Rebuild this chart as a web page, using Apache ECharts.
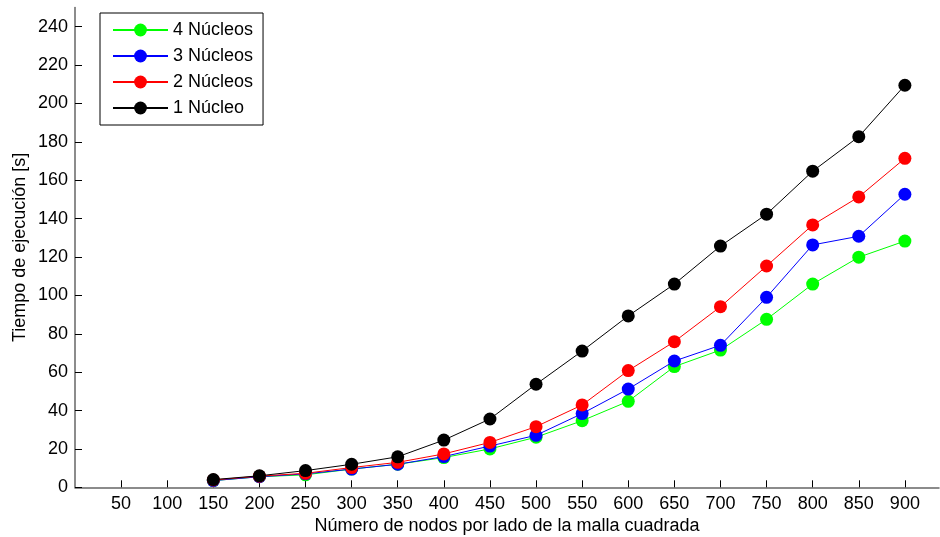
<!DOCTYPE html>
<html>
<head>
<meta charset="utf-8">
<script src="https://cdn.jsdelivr.net/npm/echarts@6/dist/echarts.min.js"></script>
<style>html,body{margin:0;padding:0;background:#fff}#c{width:940px;height:537px}</style>
</head>
<body>
<div id="c"></div>
<script>
const nodes = [150,200,250,300,350,400,450,500,550,600,650,700,750,800,850,900];
const xTicks = [50,100,150,200,250,300,350,400,450,500,550,600,650,700,750,800,850,900];
const yTicks = [0,20,40,60,80,100,120,140,160,180,200,220,240];
const names = ['4 Núcleos','3 Núcleos','2 Núcleos','1 Núcleo'];
const colors = ['#00ff00','#0000ff','#ff0000','#000000'];
const cores4 = [3.5,5.5,6.5,9.5,12,15.5,20.0,26.1,34.7,44.8,62.9,71.5,87.5,105.9,119.9,128.3];
const cores3 = [3.5,5.5,7.0,9.5,12,16.0,21.5,27.1,38.4,51.2,65.8,74.0,99.0,126.3,130.8,152.7];
const cores2 = [3.8,5.8,7.3,10.3,13,17.4,23.4,31.6,42.9,60.8,75.9,94.1,115.3,136.7,151.3,171.4];
const cores1 = [4.0,6.0,8.7,12.0,15.9,24.6,35.6,53.7,71.0,89.3,105.9,125.7,142.3,164.7,182.7,209.5];
const allSeries = [cores4,cores3,cores2,cores1];

const font = 'Liberation Sans, Arial, Helvetica, sans-serif';
const fs = 18;
const chart = echarts.init(document.getElementById('c'));
chart.setOption({
  animation: false,
  backgroundColor: '#fff',
  textStyle: {fontFamily: font},
  grid: {left: 75, right: 1, top: 7.5, bottom: 49.7, containLabel: false, outerBoundsMode: 'none'},
  legend: {
    data: names, orient: 'vertical', left: 100, top: 13,
    itemWidth: 55, itemHeight: 16, itemGap: 8,
    padding: [8, 10, 8, 12],
    borderColor: '#000', borderWidth: 1, backgroundColor: '#fff',
    textStyle: {fontSize: fs, color: '#000', fontFamily: font}
  },
  xAxis: {
    type: 'value', min: 0, max: 937, interval: 50,
    name: 'Número de nodos por lado de la malla cuadrada',
    nameLocation: 'middle', nameGap: 30, nameMoveOverlap: false,
    nameTextStyle: {fontSize: fs, color: '#000', fontFamily: font},
    axisLine: {lineStyle: {color: '#666', width: 1.5}},
    axisTick: {inside: true, length: 7, customValues: xTicks, lineStyle: {color: '#000'}},
    axisLabel: {customValues: xTicks, fontSize: fs, color: '#000', margin: 8, fontFamily: font},
    splitLine: {show: false}
  },
  yAxis: {
    type: 'value', min: 0, max: 250, interval: 20,
    name: 'Tiempo de ejecución [s]',
    nameLocation: 'middle', nameGap: 46, nameRotate: 90, nameMoveOverlap: false,
    nameTextStyle: {fontSize: fs, color: '#000', fontFamily: font},
    axisLine: {show: true, lineStyle: {color: '#666', width: 1.5}},
    axisTick: {show: true, inside: true, length: 7, customValues: yTicks, lineStyle: {color: '#000'}},
    axisLabel: {customValues: yTicks, fontSize: fs, color: '#000', margin: 7, fontFamily: font},
    splitLine: {show: false}
  },
  series: allSeries.map((vals, i) => ({
    name: names[i], type: 'line',
    data: nodes.map((n, j) => [n, vals[j]]),
    symbol: 'circle', symbolSize: 13,
    itemStyle: {color: colors[i]},
    lineStyle: {color: colors[i], width: 1},
    z: 2 + i
  }))
});
</script>
</body>
</html>
